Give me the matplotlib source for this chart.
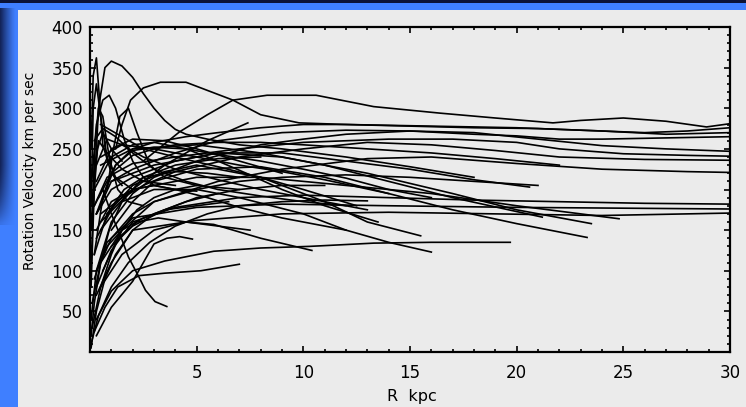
import numpy as np
import matplotlib
matplotlib.use("Agg")
import matplotlib.pyplot as plt
from matplotlib.patches import Rectangle
from matplotlib.ticker import MultipleLocator, FixedLocator

# ---------------- data (R in kpc, V in km/s) ----------------
c01_r = [2.5, 3.3, 4.2, 5.5, 6.7, 8.3, 10.6, 13.3, 16.4, 19, 21.7, 23, 25, 27, 28.9, 30]
c01_v = [235, 252, 271, 292, 310, 316, 316, 302, 294, 288, 282, 285, 288, 284, 277, 281]
c02_r = [0.2, 0.6, 1.2, 2, 3, 4.5, 6, 8, 10, 12, 14, 16, 18, 20, 22, 24, 26, 28, 30]
c02_v = [120, 190, 230, 250, 258, 265, 270, 276, 280, 280, 279, 278, 277, 276, 274, 272, 270, 272, 276]
c03_r = [0.3, 1, 2, 4, 6, 9, 12, 15, 18, 20, 22, 24, 26, 28, 30]
c03_v = [170, 210, 225, 245, 260, 270, 273, 272, 268, 266, 262, 262, 263, 264, 265]
c04_r = [0.3, 1, 2, 3, 5, 8, 10, 12, 15, 18, 21, 24, 27, 30]
c04_v = [100, 160, 195, 215, 235, 255, 262, 268, 272, 270, 262, 254, 250, 247]
c05_r = [0.2, 0.8, 2, 4, 7, 10, 14, 17, 20, 22, 25, 28, 30]
c05_v = [180, 215, 232, 240, 250, 258, 262, 262, 258, 250, 244, 242, 241]
c06_r = [0.3, 1.2, 2.5, 4, 7, 10, 13, 16, 19, 22, 26, 30]
c06_v = [140, 185, 205, 222, 240, 250, 258, 255, 248, 240, 237, 236]
c07_r = [0.5, 1.5, 3, 6, 9, 13, 16, 20, 24, 28, 30]
c07_v = [110, 150, 185, 210, 225, 238, 240, 232, 225, 222, 221]
c08_r = [0.3, 1, 2, 4, 7, 10, 14, 18, 22, 26, 30]
c08_v = [80, 125, 160, 178, 190, 193, 190, 187, 185, 183, 182]
c09_r = [0.2, 0.8, 2, 5, 9, 14, 20, 25, 30]
c09_v = [90, 135, 165, 178, 182, 180, 178, 177, 176]
c10_r = [0.3, 1, 2, 5, 9, 14, 19, 24, 30]
c10_v = [70, 110, 150, 162, 170, 172, 170, 168, 171]
c11_r = [0.3, 1, 2, 4, 6, 9, 12, 15, 18, 20.6]
c11_v = [170, 200, 215, 235, 245, 245, 235, 225, 212, 203]
c12_r = [1, 2, 3, 5, 8, 11, 14, 17, 20, 23.3]
c12_v = [150, 185, 210, 225, 228, 215, 195, 175, 158, 141]
c13_r = [0.3, 1, 2, 3.5, 5.8, 8, 10.3, 13.3, 16, 19.7]
c13_v = [40, 75, 100, 112, 124, 128, 130, 134, 135, 135]
c14_r = [0.5, 1.5, 3, 5, 7, 10, 12, 14, 16]
c14_v = [150, 185, 200, 200, 190, 170, 150, 135, 123]
c15_r = [0.8, 2, 3.5, 5, 8, 11, 13, 15.5]
c15_v = [170, 205, 222, 230, 215, 185, 160, 143]
c16_r = [0.5, 2, 5, 8, 12, 16, 20, 24.8]
c16_v = [170, 200, 215, 215, 205, 195, 180, 164]
c17_r = [1, 3, 6, 9, 13, 17, 20, 23.5]
c17_v = [210, 230, 245, 240, 220, 195, 175, 158]
c18_r = [0.5, 2, 5, 8, 11, 14, 17, 21.2]
c18_v = [230, 250, 255, 245, 230, 210, 190, 166]
c19_r = [0.5, 1.5, 3, 4.5, 5.8, 8, 10.4]
c19_v = [80, 120, 150, 160, 157, 140, 125]
c20_r = [0.5, 2, 3.5, 5.5, 7.4]
c20_v = [160, 200, 230, 260, 282]
c21_r = [0.2, 0.7, 1.3, 2.3, 3.5, 5.2, 7]
c21_v = [25, 55, 80, 94, 97, 100, 108]
c22_r = [0.3, 1, 2, 2.5, 3, 3.6, 4.2, 4.8]
c22_v = [20, 55, 87, 110, 133, 140, 142, 139]
c23_r = [0.2, 0.6, 1, 1.5, 1.8, 2.3, 2.6, 3.05, 3.6]
c23_v = [180, 200, 170, 138, 117, 92, 76, 62, 56]
c24_r = [0.1, 0.4, 0.7, 1, 1.5, 2, 2.5, 3, 3.5, 4, 4.5, 5.5, 7, 9, 12, 15, 18]
c24_v = [150, 300, 350, 358, 352, 338, 318, 300, 285, 274, 268, 262, 255, 250, 240, 228, 215]
c25_r = [1.2, 1.5, 1.9, 2.5, 3.3, 4.5, 5.5, 6.7, 8, 9.8, 12, 15, 18, 21, 24, 27, 30]
c25_v = [250, 280, 310, 325, 332, 332, 322, 310, 292, 282, 280, 278, 276, 275, 272, 268, 270]
c26_r = [0.05, 0.3, 0.6, 0.9, 1.2, 1.6, 2, 2.5, 3, 4, 5]
c26_v = [200, 280, 310, 316, 300, 262, 235, 215, 205, 200, 198]
c27_r = [0.05, 0.25, 0.4, 0.6, 0.9, 1.3, 1.8, 2.5]
c27_v = [150, 260, 300, 290, 240, 200, 185, 180]
c28_r = [0.05, 0.15, 0.3, 0.45, 0.6, 1, 1.5]
c28_v = [250, 340, 362, 310, 255, 220, 205]
c29_r = [0.8, 1.1, 1.4, 1.8, 2.2, 2.8, 3.5, 5, 7]
c29_v = [200, 250, 290, 300, 270, 230, 215, 205, 200]
c30_r = [0.05, 0.3, 0.7, 1.2, 2, 3, 4.5, 6]
c30_v = [5, 50, 90, 120, 150, 170, 185, 195]
c31_r = [0.05, 0.4, 1, 1.8, 2.8, 4, 5.5, 7, 9, 11, 13]
c31_v = [10, 45, 80, 110, 135, 155, 170, 180, 185, 187, 186]
c32_r = [0.1, 0.5, 1, 1.5, 2.2, 3, 4, 5]
c32_v = [30, 80, 120, 150, 175, 190, 200, 205]
c33_r = [0.05, 0.2, 0.5, 0.9, 1.5, 2.5, 4, 6, 8]
c33_v = [20, 60, 110, 150, 185, 215, 230, 238, 240]
c34_r = [0.2, 0.6, 1.2, 2, 3, 4.5, 6, 8, 10, 12]
c34_v = [260, 275, 265, 245, 225, 210, 200, 192, 185, 180]
c35_r = [0.3, 0.8, 1.5, 2.5, 4, 6, 8, 10, 13]
c35_v = [230, 262, 255, 240, 225, 212, 200, 190, 175]
c36_r = [0.2, 1, 2, 3, 4.5, 6, 7.5, 9, 11, 13.5]
c36_v = [200, 240, 255, 258, 250, 235, 218, 200, 180, 160]
c37_r = [0.5, 1.5, 3, 5, 7, 9, 11, 14]
c37_v = [240, 255, 250, 240, 230, 222, 212, 195]
c38_r = [0.3, 1, 2, 3.5, 5, 7, 9]
c38_v = [210, 250, 262, 260, 250, 235, 220]
c39_r = [0.5, 1.5, 2.5, 4, 6, 8, 10, 12.5]
c39_v = [280, 265, 250, 240, 228, 215, 200, 180]
c40_r = [0.2, 0.8, 1.6, 2.5, 4, 5.5, 7]
c40_v = [120, 170, 200, 215, 222, 220, 215]
c41_r = [1, 2, 3.5, 5, 7, 9, 11]
c41_v = [130, 155, 175, 190, 200, 205, 205]
c42_r = [0.3, 1, 2, 3, 4, 5.5, 7, 9, 11, 12]
c42_v = [150, 185, 200, 205, 200, 190, 178, 165, 155, 150]
c43_r = [0.4, 1.2, 2, 3, 4.5, 6, 8, 10, 12, 14, 16]
c43_v = [190, 230, 248, 252, 250, 243, 235, 225, 214, 200, 190]
c44_r = [0.1, 0.5, 1, 2, 3, 5, 7, 9, 12, 15, 18, 21]
c44_v = [60, 110, 140, 170, 185, 200, 210, 215, 218, 215, 210, 205]
c45_r = [0.3, 1, 2, 3, 4, 6, 8, 10, 13, 16, 19, 22]
c45_v = [170, 220, 242, 250, 255, 258, 258, 255, 250, 245, 238, 230]
c46_r = [0.05, 0.2, 0.4, 0.8, 1.5, 2.5, 4]
c46_v = [100, 220, 260, 245, 225, 210, 205]
c47_r = [0.05, 0.15, 0.3, 0.5, 0.8, 1.2, 2]
c47_v = [180, 300, 330, 290, 240, 215, 200]
c48_r = [0.05, 0.2, 0.35, 0.6, 1, 1.5]
c48_v = [80, 200, 250, 270, 250, 235]
c49_r = [0.05, 0.3, 0.8, 1.5, 2.5, 3.5, 5, 6.5]
c49_v = [40, 100, 130, 150, 165, 175, 180, 185]
c50_r = [0.6, 1.3, 2.2, 3.2, 4.5, 6, 7.5]
c50_v = [100, 140, 160, 165, 160, 155, 150]

x_ticks = [5, 10, 15, 20, 25, 30]
y_ticks = [50, 100, 150, 200, 250, 300, 350, 400]

curves = [
    (c01_r, c01_v), (c02_r, c02_v), (c03_r, c03_v), (c04_r, c04_v), (c05_r, c05_v),
    (c06_r, c06_v), (c07_r, c07_v), (c08_r, c08_v), (c09_r, c09_v), (c10_r, c10_v),
    (c11_r, c11_v), (c12_r, c12_v), (c13_r, c13_v), (c14_r, c14_v), (c15_r, c15_v),
    (c16_r, c16_v), (c17_r, c17_v), (c18_r, c18_v), (c19_r, c19_v), (c20_r, c20_v),
    (c21_r, c21_v), (c22_r, c22_v), (c23_r, c23_v), (c24_r, c24_v), (c25_r, c25_v),
    (c26_r, c26_v), (c27_r, c27_v), (c28_r, c28_v), (c29_r, c29_v), (c30_r, c30_v),
    (c31_r, c31_v), (c32_r, c32_v), (c33_r, c33_v), (c34_r, c34_v), (c35_r, c35_v),
    (c36_r, c36_v), (c37_r, c37_v), (c38_r, c38_v), (c39_r, c39_v), (c40_r, c40_v),
    (c41_r, c41_v), (c42_r, c42_v), (c43_r, c43_v), (c44_r, c44_v), (c45_r, c45_v),
    (c46_r, c46_v), (c47_r, c47_v), (c48_r, c48_v), (c49_r, c49_v), (c50_r, c50_v),
]

# ---------------- figure ----------------
W, H = 746, 407
BLUE = "#3f7fff"
PANEL = "#ebebeb"
fig = plt.figure(figsize=(W / 100, H / 100), dpi=100, facecolor=BLUE)

bg = fig.add_axes([0, 0, 1, 1], zorder=-10)
bg.set_xlim(0, W)
bg.set_ylim(H, 0)
bg.axis("off")
bg.add_patch(Rectangle((0, 0), W, 3, color="#0b1236", lw=0))
# dark shading on the left blue strip
grad = np.zeros((60, 30, 4))
cx = np.linspace(0, 1, 30)
cy = np.linspace(0, 1, 60)
alpha = np.outer(np.clip(1.15 - cy ** 6, 0, 1), np.clip(1 - cx, 0, 1) ** 1.2) * 0.85
grad[..., 0] = 0.04
grad[..., 1] = 0.07
grad[..., 2] = 0.22
grad[..., 3] = alpha
bg.imshow(grad, extent=(0, 16, 225, 8), aspect="auto", interpolation="bilinear")
bg.add_patch(Rectangle((18, 10), W - 18, H - 10, color=PANEL, lw=0))

ax = fig.add_axes([90 / W, 1 - 352 / H, 640 / W, 325 / H], facecolor=PANEL)
for r, v in curves:
    ax.plot(r, v, color="black", lw=1.2, solid_joinstyle="round")

ax.set_xlim(0, 30)
ax.set_ylim(0, 400)
ax.xaxis.set_major_locator(FixedLocator(x_ticks))
ax.xaxis.set_minor_locator(MultipleLocator(1))
ax.yaxis.set_major_locator(FixedLocator(y_ticks))
ax.yaxis.set_minor_locator(MultipleLocator(10))
ax.tick_params(which="both", direction="in", top=True, right=True, width=1.2, colors="black")
ax.tick_params(which="major", length=4)
ax.tick_params(which="minor", length=2.2)
ax.tick_params(axis="x", which="major", labelsize=12, pad=9)
ax.tick_params(axis="y", which="major", labelsize=12, pad=5)
for s in ax.spines.values():
    s.set_linewidth(1.6)

fig.text(412 / W, 1 - 396 / H, "R  kpc", ha="center", va="center", fontsize=11.5)
fig.text(30 / W, 1 - 171 / H, "Rotation Velocity km per sec", ha="center", va="center",
         rotation=90, fontsize=10)

fig.savefig("out.png", dpi=100, facecolor=BLUE)
